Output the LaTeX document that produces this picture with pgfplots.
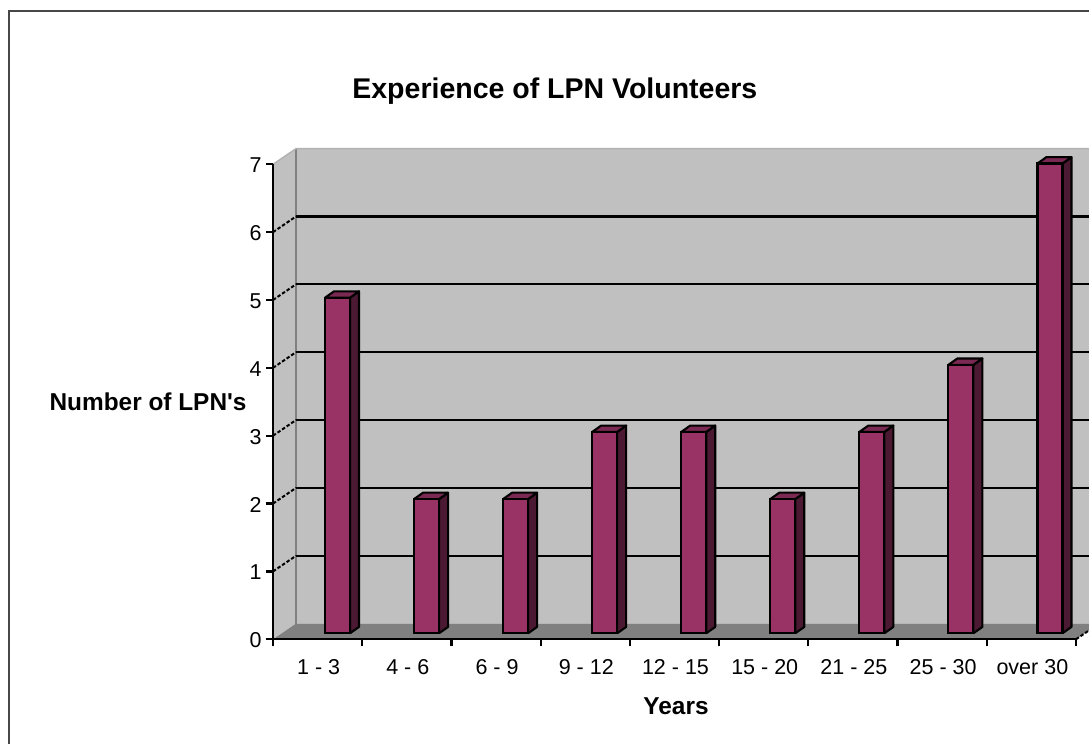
\documentclass[border=0pt]{standalone}
\usepackage{pgfplots}
\usepackage{fontspec}
\setmainfont{Liberation Sans}
\pgfplotsset{compat=1.18}
\definecolor{wall}{HTML}{C0C0C0}
\definecolor{floorc}{HTML}{808080}
\definecolor{front}{HTML}{993366}
\definecolor{sidec}{HTML}{4C1933}
\definecolor{topc}{HTML}{7A2952}
\newcommand{\gridlevel}[1]{%
  \addplot[black,line width=2.1pt,forget plot] coordinates {(-0.242,#1.2314) (8.758,#1.2314)};
  \addplot[black,line width=2pt,dash pattern=on 3.5pt off 2pt,forget plot] coordinates {(-0.5,#1) (-0.242,#1.2314)};
}
\newcommand{\barfaces}[2]{%
  \pgfmathsetmacro\xa{#1+0.1404}
  \pgfmathsetmacro\xb{#1+0.2414}
  \pgfmathsetmacro\xc{#1-0.1404}
  \pgfmathsetmacro\xd{#1-0.0394}
  \pgfmathsetmacro\ya{#2+0.095}
  \addplot[fill=sidec,draw=black,line width=2.1pt,line join=round,forget plot] coordinates {(\xa,0) (\xb,0.095) (\xb,\ya) (\xa,#2) (\xa,0)};
  \addplot[fill=topc,draw=black,line width=2.1pt,line join=round,forget plot] coordinates {(\xc,#2) (\xd,\ya) (\xb,\ya) (\xa,#2) (\xc,#2)};
}
\begin{document}
\begin{tikzpicture}[x=1pt,y=1pt]
\path[use as bounding box,clip] (0,0) rectangle (1089,744);
\fill[white] (0,0) rectangle (1089,744);
\draw[color=black!72,line width=2.6pt] (9,0) -- (9,733) -- (1095,733);
\begin{axis}[
  at={(273pt,104.7pt)},anchor=south west,
  scale only axis,width=803pt,height=475pt,
  xmin=-0.5,xmax=8.5,ymin=0,ymax=7,
  clip=false,axis on top,
  axis x line*=bottom,axis y line*=left,
  axis line style={black,line width=2.2pt},
  xtick={-0.5,0.5,1.5,2.5,3.5,4.5,5.5,6.5,7.5,8.5},
  x tick label as interval,
  xticklabels={1 - 3,4 - 6,6 - 9,9 - 12,12 - 15,15 - 20,21 - 25,25 - 30,over 30},
  ytick={0,1,2,3,4,5,6,7},
  tick align=outside,major tick length=7pt,
  tick style={black,line width=2.2pt},
  ticklabel style={font=\fontsize{21.5}{25}\selectfont,/pgf/number format/assume math mode=true},
  xticklabel style={yshift=-10pt,xshift=1pt},
  yticklabel style={xshift=-1pt,yshift=-1pt},
  title={\fontsize{28.5}{33}\selectfont\bfseries Experience of LPN Volunteers},
  title style={at={(axis description cs:0.351,1.1416)},anchor=center},
  xlabel={\fontsize{24.4}{28}\selectfont\bfseries Years},
  xlabel style={at={(axis description cs:0.5019,-0.1404)},anchor=center},
  ylabel={\fontsize{24.4}{28}\selectfont\bfseries Number of LPN\textquotesingle s},
  ylabel style={at={(axis description cs:-0.1556,0.5)},anchor=center,rotate=-90},
]
\addplot[fill=wall,draw=none,forget plot] coordinates {(-0.5,0) (-0.242,0.2314) (-0.242,7.2314) (-0.5,7) (-0.5,0)};
\addplot[fill=wall,draw=none,forget plot] coordinates {(-0.242,0.2314) (8.758,0.2314) (8.758,7.2314) (-0.242,7.2314) (-0.242,0.2314)};
\addplot[fill=floorc,draw=none,forget plot] coordinates {(-0.5,0) (-0.242,0.2314) (8.758,0.2314) (8.5,0) (-0.5,0)};
\addplot[color=floorc,line width=1.8pt,forget plot] coordinates {(-0.242,0.2314) (-0.242,7.2314)};
\addplot[color=black!30,line width=1.4pt,forget plot] coordinates {(-0.5,7) (-0.242,7.2314) (8.758,7.2314)};
\gridlevel{1}\gridlevel{2}\gridlevel{3}\gridlevel{4}\gridlevel{5}\gridlevel{6}
\addplot[black,line width=2pt,dash pattern=on 3.5pt off 2pt,forget plot] coordinates {(8.5,0) (8.758,0.2314)};
\end{axis}
\begin{axis}[
  at={(292.97pt,110.7pt)},anchor=south west,
  scale only axis,width=801.5pt,height=469.8pt,
  xmin=-0.5,xmax=8.5,ymin=0,ymax=7,
  clip=false,hide axis,
]
\barfaces{0}{5}\barfaces{1}{2}\barfaces{2}{2}\barfaces{3}{3}\barfaces{4}{3}\barfaces{5}{2}\barfaces{6}{3}\barfaces{7}{4}\barfaces{8}{7}
\addplot[ybar,bar width=25pt,bar shift=0pt,fill=front,draw=black,line width=2.1pt] table[row sep=\\] {
x y\\ 0 5\\ 1 2\\ 2 2\\ 3 3\\ 4 3\\ 5 2\\ 6 3\\ 7 4\\ 8 7\\
};
\end{axis}
\end{tikzpicture}
\end{document}
